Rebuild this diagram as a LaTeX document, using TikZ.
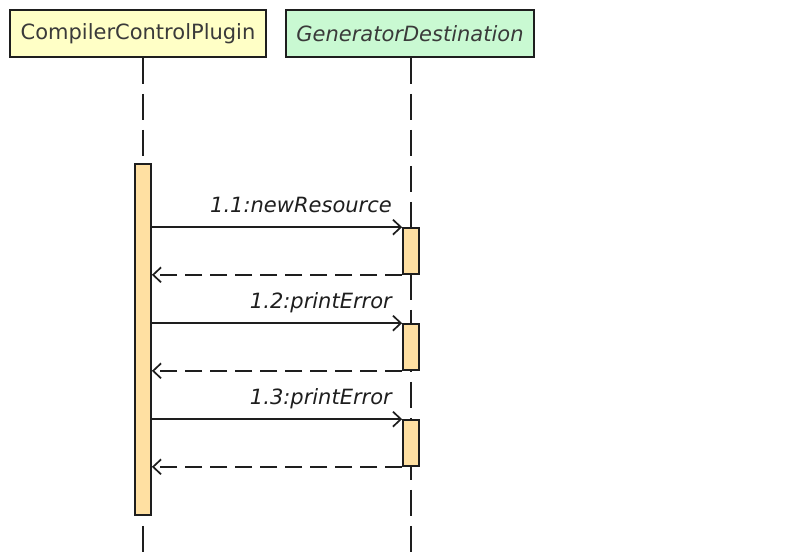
\documentclass[tikz,border=0pt]{standalone}
\usepackage{fontspec}
\setmainfont{DejaVu Sans}
\usetikzlibrary{arrows.meta}
\definecolor{hdryellow}{HTML}{FFFFC6}
\definecolor{hdrgreen}{HTML}{C9F9D2}
\definecolor{actfill}{HTML}{FFE0A2}
\definecolor{txtgray}{HTML}{3A3A3A}
\definecolor{strk}{HTML}{1E1E1E}
\begin{document}
\begin{tikzpicture}[x=1pt,y=-1pt,
  hdr/.style={draw=strk,line width=1.9pt,minimum height=47pt,inner sep=0pt,
    font=\fontsize{21}{25}\selectfont,text=txtgray},
  actbox/.style={draw=strk,line width=1.7pt,fill=actfill,minimum width=16pt,inner sep=0pt},
  lifeline/.style={draw=strk,line width=1.8pt,dash pattern=on 26pt off 10pt},
  callarrow/.style={draw=strk,line width=1.7pt,-{Straight Barb[length=8pt,width=15pt,line width=1.7pt]}},
  retarrow/.style={draw=strk,line width=1.7pt,dash pattern=on 17pt off 8pt,-{Straight Barb[length=8pt,width=15pt,line width=1.7pt]}},
  msglabel/.style={anchor=base east,inner sep=0pt,font=\fontsize{21}{25}\selectfont\itshape,text=strk}]
\useasboundingbox (0,0) rectangle (796,552);
% headers
\node[hdr,fill=hdryellow,minimum width=256pt] (h1) at (138,33.5) {CompilerControlPlugin};
\node[hdr,fill=hdrgreen,minimum width=248pt] (h2) at (410,33.5) {\itshape GeneratorDestination};
% lifelines
\coordinate (l1end) at (143,552);
\coordinate (l2end) at (411,552);
\draw[lifeline] (h1.south -| l1end) -- (l1end);
\draw[lifeline] (h2.south -| l2end) -- (l2end);
% activation bars
\node[actbox,minimum height=351pt] (a1) at (143,339.5) {};
\node[actbox,minimum height=46pt] (b1) at (411,251) {};
\node[actbox,minimum height=46pt] (b2) at (411,347) {};
\node[actbox,minimum height=46pt] (b3) at (411,443) {};
% messages
\draw[callarrow] (a1.east |- b1.north west) -- (b1.north west);
\draw[retarrow] (b1.south west) -- (a1.east |- b1.south west);
\draw[callarrow] (a1.east |- b2.north west) -- (b2.north west);
\draw[retarrow] (b2.south west) -- (a1.east |- b2.south west);
\draw[callarrow] (a1.east |- b3.north west) -- (b3.north west);
\draw[retarrow] (b3.south west) -- (a1.east |- b3.south west);
% labels
\node[msglabel] (m1) at (392,212) {1.1:newResource};
\node[msglabel] (m2) at (392,308) {1.2:printError};
\node[msglabel] (m3) at (392,404) {1.3:printError};
\end{tikzpicture}
\end{document}
